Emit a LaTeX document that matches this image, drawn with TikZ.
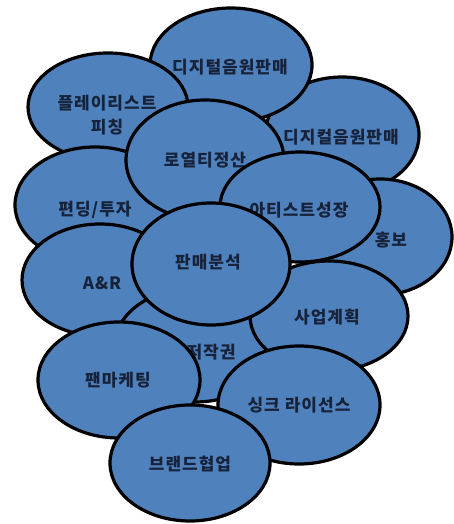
\documentclass[tikz,border=0pt]{standalone}
\usepackage{fontspec}
\setmainfont{Noto Sans CJK KR}[LetterSpace=6]
\usetikzlibrary{shapes.geometric}
\definecolor{blobfill}{HTML}{4F81BD}
\definecolor{blobtext}{HTML}{17233A}
\tikzset{
  blob/.style={ellipse, draw=black, line width=3.2pt, fill=blobfill, inner sep=0pt},
  lbl/.style={text=blobtext, font=\fontsize{17}{24}\selectfont\bfseries, inner sep=0pt, align=center, anchor=center}
}
\begin{document}
\begin{tikzpicture}[x=1pt,y=-1pt]
\useasboundingbox (0,0) rectangle (453,524);
% order of stacking
\node[blob, minimum width=154pt, minimum height=116pt] (e3) at (342,135) {};
\node[lbl] (t3) at (341,137) {디지컬음원판매};
\node[blob, minimum width=162pt, minimum height=114pt] (e1) at (231,65) {};
\node[lbl] (t1) at (230,67) {디지털음원판매};
\node[blob, minimum width=160pt, minimum height=108pt] (e2) at (108,107) {};
\node[lbl] (t2) at (107,115) {플레이리스트\\피칭};
\node[blob, minimum width=160pt, minimum height=116pt] (e4) at (95,205) {};
\node[lbl] (t4) at (95,210) {편딩/투자};
\node[blob, minimum width=158pt, minimum height=120pt] (e5) at (205,160) {};
\node[lbl] (t5) at (205,160) {로열티정산};
\node[blob, minimum width=144pt, minimum height=116pt] (e6) at (380,237) {};
\node[lbl] (t6) at (391,240) {홍보};
\node[blob, minimum width=160pt, minimum height=110pt] (e7) at (300,207) {};
\node[lbl] (t7) at (299,210) {아티스트성장};
\node[blob, minimum width=156pt, minimum height=112pt] (e8) at (100,280) {};
\node[lbl] (t8) at (102,283) {A\&R};
\node[blob, minimum width=160pt, minimum height=114pt] (e9) at (195,345) {};
\node[lbl] (t9) at (211,352) {저작권};
\node[blob, minimum width=158pt, minimum height=110pt] (e10) at (329,316) {};
\node[lbl] (t10) at (327,317) {사업계획};
\node[blob, minimum width=158pt, minimum height=122pt] (e11) at (211,264) {};
\node[lbl] (t11) at (208,262) {판매분석};
\node[blob, minimum width=162pt, minimum height=116pt] (e12) at (119,380) {};
\node[lbl] (t12) at (118,380) {팬마케팅};
\node[blob, minimum width=162pt, minimum height=118pt] (e13) at (299,405) {};
\node[lbl] (t13) at (299,405) {싱크 라이선스};
\node[blob, minimum width=160pt, minimum height=116pt] (e14) at (190,463) {};
\node[lbl] (t14) at (190,464) {브랜드협업};
\end{tikzpicture}
\end{document}
